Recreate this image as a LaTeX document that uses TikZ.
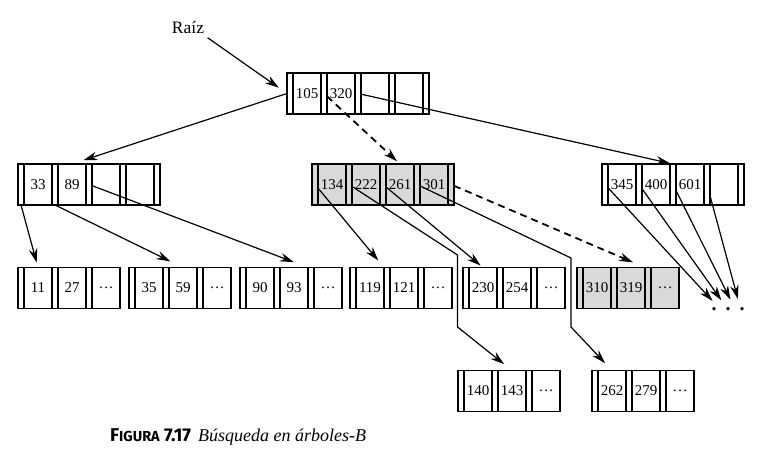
\documentclass[tikz,border=0pt]{standalone}
\usepackage{fontspec}
\setmainfont{Liberation Serif}
\setsansfont{Fira Sans}
\usetikzlibrary{positioning, calc, arrows.meta}

% B-tree node: a pointer strip before every key
\newcommand{\hoja}[4][]{%
  \foreach \k [count=\i, remember=\i as \j (initially 0)] in {#4} {
    \ifnum\i=1
      \node[ptr, #1, anchor=west] (#2p1) at #3 {};
    \else
      \node[ptr, #1, right=0pt of #2k\j] (#2p\i) {};
    \fi
    \node[clave, #1, right=0pt of #2p\i] (#2k\i) {\k};
  }
}
% inner node: four keys plus a last pointer strip
\newcommand{\interno}[4][]{%
  \hoja[#1]{#2}{#3}{#4}
  \node[ptr, #1, right=0pt of #2k4] (#2p5) {};
}

\begin{document}
\begin{tikzpicture}[
    x=1pt, y=1pt,
    % Define node styles
    ptr/.style={
        draw,
        line width=1.3pt,
        minimum width=6pt,
        minimum height=41pt,
        inner sep=0pt,
        outer sep=0pt
    },
    clave/.style={
        draw,
        line width=1.3pt,
        minimum width=28pt,
        minimum height=41pt,
        inner sep=0pt,
        outer sep=0pt,
        font=\fontsize{15}{17}\selectfont
    },
    sombra/.style={fill=gray!30},
    flecha/.style={-{Stealth[length=14pt, width=8.5pt]}, line width=1.2pt},
    discont/.style={flecha, line width=1.8pt, dash pattern=on 7pt off 5pt}
]
    \useasboundingbox (0,0) rectangle (762,470);

    % Root node
    \node[font=\fontsize{17.5}{20}\selectfont] (raiz) at (188,442) {Raíz};
    \interno{r}{(287,376.5)}{105,320,{},{}}

    % First level
    \interno{a}{(18,285.5)}{33,89,{},{}}
    \interno[sombra]{b}{(312,285.5)}{134,222,261,301}
    \interno{c}{(602,285.5)}{345,400,601,{}}

    % Leaves
    \hoja{l1}{(18,182)}{11,27,\ldots}
    \hoja{l2}{(129,182)}{35,59,\ldots}
    \hoja{l3}{(240,182)}{90,93,\ldots}
    \hoja{l4}{(350,182)}{119,121,\ldots}
    \hoja{l5}{(463,182)}{230,254,\ldots}
    \hoja[sombra]{l6}{(577,182)}{310,319,\ldots}
    \hoja{l7}{(458,79)}{140,143,\ldots}
    \hoja{l8}{(592,79)}{262,279,\ldots}
    \node[anchor=base, inner sep=1pt, font=\bfseries\fontsize{20}{22}\selectfont] (puntos) at (728,159)
        {.\hspace{9pt}.\hspace{9pt}.};

    % Gaps between the leaves
    \coordinate (g1) at ($(l4k3.east)!.5!(l5p1.west)$);
    \coordinate (g2) at ($(l5k3.east)!.5!(l6p1.west)$);

    % Root pointers
    \draw[flecha, shorten >=10pt] (raiz.south east) -- (rp1.west);
    \draw[flecha, shorten >=12pt] (rp1.west) -- (ak2.north);
    \draw[discont, shorten >=4pt] (rp2) -- (bk3.north);
    \draw[flecha, shorten >=3pt] (rp3) -- (cp3.north);

    % Pointers of the first level
    \draw[flecha, shorten >=5pt] (ap1.south) -- (l1k1.north);
    \draw[flecha, shorten >=14pt] (ap2.south) -- (l2k2.north);
    \draw[flecha, shorten >=15pt] (ap3) -- (l3k2.north east);
    \draw[flecha, shorten >=9pt] (bp1) -- (l4k1.north east);
    \draw[flecha, shorten >=10pt] (bp2) -- ([yshift=33pt]g1) -- ([yshift=-39pt]g1) -- (l7k2.north);
    \draw[flecha, shorten >=3pt] (bp3) -- (l5k1.north);
    \draw[flecha, shorten >=10pt] (bp4) -- ([yshift=30pt]g2) -- ([yshift=-39pt]g2) -- (l8k1.north);
    \draw[discont, shorten >=13pt] (bp5) -- (l6k2.north east);
    \draw[flecha, shorten >=8pt] (cp1) -- ([xshift=-10pt]puntos.north);
    \draw[flecha, shorten >=8pt] (cp2) -- ([xshift=-2pt]puntos.north);
    \draw[flecha, shorten >=8pt] (cp3) -- ([xshift=6pt]puntos.north);
    \draw[flecha, shorten >=8pt] (cp4) -- ([xshift=12pt]puntos.north);

    % Caption
    \node[anchor=base west, inner sep=0pt] (leyenda) at (110,28)
        {{\sffamily\bfseries\fontsize{18.5}{22}\selectfont F{\fontsize{14.5}{17}\selectfont IGURA} 7.17}\hspace{7pt}%
         {\itshape\fontsize{18}{22}\selectfont Búsqueda en árboles-B}};
\end{tikzpicture}
\end{document}
